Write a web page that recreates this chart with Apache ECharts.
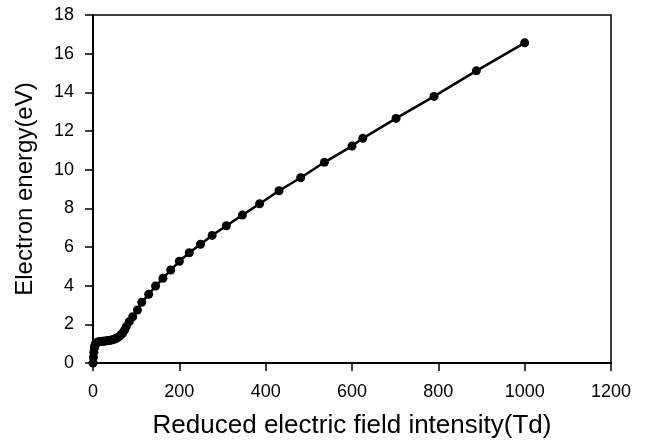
<!DOCTYPE html>
<html>
<head>
<meta charset="utf-8">
<script src="https://cdn.jsdelivr.net/npm/echarts@6/dist/echarts.min.js"></script>
<style>html,body{margin:0;padding:0;background:#fff}#c{width:649px;height:444px}</style>
</head>
<body>
<div id="c"></div>
<script>
const fieldTd = [0,1,2,3,4,5,6,8,10,12,15,18,21,25,29,33,37,41,45,49,53,57,61,65,69,73,77,84,92,103,113,129,145,162,180,200,223,249,276,309,346,386,431,481,536,600,625,702,790,888,1000];
const energyEV = [0,0.3,0.55,0.75,0.87,0.95,1.0,1.04,1.07,1.09,1.1,1.11,1.12,1.13,1.14,1.15,1.16,1.18,1.2,1.23,1.27,1.32,1.38,1.46,1.55,1.7,1.88,2.14,2.39,2.74,3.14,3.55,3.98,4.38,4.81,5.26,5.70,6.14,6.60,7.10,7.65,8.24,8.91,9.58,10.38,11.22,11.62,12.65,13.79,15.11,16.56];
const xTitle = 'Reduced electric field intensity(Td)';
const yTitle = 'Electron energy(eV)';

const font = 'Liberation Sans, Arial, sans-serif';
const chart = echarts.init(document.getElementById('c'));
chart.setOption({
  animation: false,
  backgroundColor: '#fff',
  grid: {left: 93, right: 38, top: 15, bottom: 81, outerBoundsMode: 'none', containLabel: false, show: true, borderColor: '#000', borderWidth: 1.5, backgroundColor: 'transparent'},
  xAxis: {
    type: 'value', min: 0, max: 1200, interval: 200,
    name: xTitle, nameLocation: 'middle', nameGap: 50,
    nameTextStyle: {fontFamily: font, fontSize: 26, color: '#000'},
    axisLine: {lineStyle: {color: '#000', width: 2}},
    axisTick: {show: true, length: 8, lineStyle: {color: '#000', width: 1.5}},
    axisLabel: {fontFamily: font, fontSize: 18, color: '#000', margin: 20, formatter: v => String(v)},
    splitLine: {show: false}
  },
  yAxis: {
    type: 'value', min: 0, max: 18, interval: 2,
    name: yTitle, nameLocation: 'middle', nameGap: 56,
    nameTextStyle: {fontFamily: font, fontSize: 24, color: '#000'},
    axisLine: {show: true, lineStyle: {color: '#000', width: 2}},
    axisTick: {show: true, length: 8, lineStyle: {color: '#000', width: 1.5}},
    axisLabel: {fontFamily: font, fontSize: 18, color: '#000', margin: 19},
    splitLine: {show: false}
  },
  series: [{
    type: 'line',
    data: fieldTd.map((x, i) => [x, energyEV[i]]),
    symbol: 'circle', symbolSize: 9,
    showAllSymbol: true,
    lineStyle: {color: '#000', width: 2.5},
    itemStyle: {color: '#000'}
  }]
});
</script>
</body>
</html>
